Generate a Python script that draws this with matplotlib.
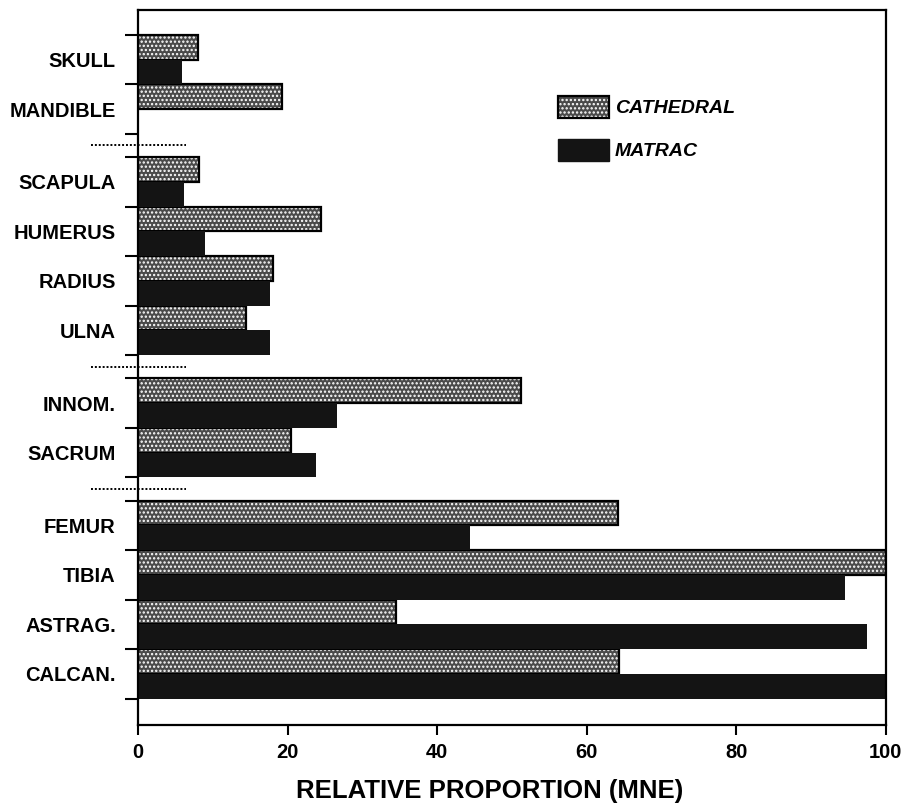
import numpy as np
import matplotlib.pyplot as plt
from matplotlib.patches import Patch

plt.rcParams['font.family'] = ['Liberation Sans', 'DejaVu Sans']
plt.rcParams['font.weight'] = 'bold'
plt.rcParams['hatch.linewidth'] = 1.1

groups = [["SKULL", "MANDIBLE"],
          ["SCAPULA", "HUMERUS", "RADIUS", "ULNA"],
          ["INNOM.", "SACRUM"],
          ["FEMUR", "TIBIA", "ASTRAG.", "CALCAN."]]
cathedral = [8.0, 19.3, 8.2, 24.5, 18.0, 14.4, 51.2, 20.5, 64.2, 100, 34.5, 64.3]
matrac = [5.9, 0, 6.1, 8.9, 17.7, 17.7, 26.6, 23.8, 44.4, 94.5, 97.5, 100]
series = ["CATHEDRAL", "MATRAC"]
xticks = [0, 20, 40, 60, 80, 100]

gap = 0.47
cath_face = '#4a4a4a'
dark = '#141414'

# slot layout: one unit per bone, small gap between body regions
starts, bounds, seps = [], [], []
y = 0.0
for gi, g in enumerate(groups):
    if gi:
        seps.append(y + gap / 2)
        y += gap
    for name in g:
        starts.append(y)
        bounds.append(y)
        y += 1
    bounds.append(y)
starts = np.array(starts)
labels = [n for g in groups for n in g]

fig = plt.figure(figsize=(9.03, 8.06), dpi=100)
ax = fig.add_axes([0.1528, 0.1005, 0.8282, 0.8871])

# stippled bars: white dots on dark grey, black outline on top
ax.barh(starts + 0.25, cathedral, height=0.5, facecolor=cath_face,
        edgecolor='white', hatch='....', linewidth=0)
ax.barh(starts + 0.25, cathedral, height=0.5, fill=False,
        edgecolor='black', linewidth=1.6)
ax.barh(starts + 0.75, matrac, height=0.5, color=dark, linewidth=0)

ax.set_xlim(0, 100)
ax.set_ylim(y + 0.53, -0.5)

ax.set_yticks(bounds, minor=True)
ax.set_yticks(starts + 0.5)
ax.set_yticklabels(labels, fontsize=14.5, fontweight='bold')
ax.tick_params(axis='y', which='major', length=0, pad=16)
ax.tick_params(axis='y', which='minor', direction='out', length=9.5, width=1.5)

ax.set_xticks(xticks)
ax.set_xticklabels([str(v) for v in xticks], fontsize=14.5, fontweight='bold')
ax.tick_params(axis='x', direction='out', length=7, width=1.5, pad=6)
ax.set_xlabel("RELATIVE PROPORTION (MNE)", fontsize=18.5, fontweight='bold')
ax.xaxis.set_label_coords(0.47, -0.075)

for s in ax.spines.values():
    s.set_linewidth(1.6)

for sy in seps:
    ax.plot([-6.3, 6.4], [sy, sy], color='black', lw=1.4,
            linestyle=(0, (1, 1)), clip_on=False)

cath_handle = (Patch(facecolor=cath_face, edgecolor='white', hatch='....', linewidth=0),
               Patch(fill=False, edgecolor='black', linewidth=1.6))
handles = [cath_handle, Patch(facecolor=dark, edgecolor=dark)]
ax.legend(handles, series, loc='upper left', bbox_to_anchor=(0.562, 0.88),
          frameon=False, borderpad=0, borderaxespad=0, handlelength=2.6,
          handleheight=1.35, handletextpad=0.3, labelspacing=1.1,
          prop=dict(family='Liberation Sans', weight='bold', style='italic', size=14))

fig.savefig('out.png', dpi=100)
